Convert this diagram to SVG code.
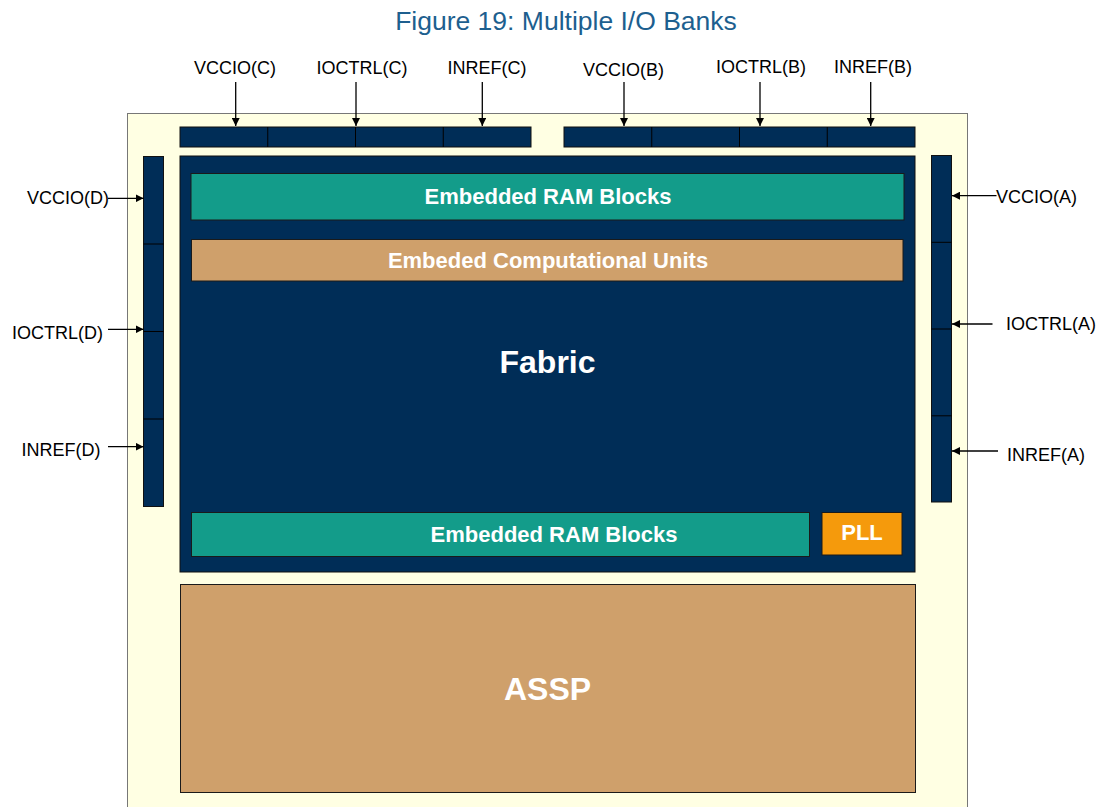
<svg xmlns="http://www.w3.org/2000/svg" width="1100" height="807" viewBox="0 0 1100 807">
  <style>
    .lbl { font-family: "Liberation Sans", Arial, sans-serif; font-size: 18px; fill: #000; }
    .title { font-family: "Liberation Sans", Arial, sans-serif; font-size: 26.5px; fill: #1d5f8f; }
    .bold { font-family: "Liberation Sans", Arial, sans-serif; font-weight: bold; fill: #fff; text-anchor: middle; }
    .bank { fill: #002d57; stroke: #111; stroke-width: 1; }
    .div { stroke: #000; stroke-width: 1; }
    .ram { fill: #139c8a; stroke: #1a1a1a; stroke-width: 1; }
    .tan { fill: #cfa06b; stroke: #1a1a1a; stroke-width: 1; }
    .fabric { fill: #002d57; stroke: #111; stroke-width: 1; }
    .pll { fill: #f59a0c; stroke: #1a1a1a; stroke-width: 1; }
    .wire { stroke: #000; stroke-width: 1.3; fill: none; marker-end: url(#arrow); }
  </style>
  <defs>
    <marker id="arrow" viewBox="0 0 10 10" refX="10" refY="5" markerWidth="8" markerHeight="8" markerUnits="userSpaceOnUse" orient="auto">
      <path d="M0,0 L10,5 L0,10 z" fill="#000"/>
    </marker>
  </defs>

  <rect width="1100" height="807" fill="#fff"/>

  <text class="title" x="566" y="30" text-anchor="middle">Figure 19: Multiple I/O Banks</text>

  <!-- chip outline -->
  <rect id="chip" x="127.5" y="113.5" width="840" height="720" fill="#ffffe3" stroke="#777" stroke-width="1"/>

  <!-- I/O bank C (top left) -->
  <g id="bank-c">
    <rect class="bank" x="180" y="127" width="351" height="20"/>
    <line class="div" x1="267.75" y1="127" x2="267.75" y2="147"/>
    <line class="div" x1="355.5" y1="127" x2="355.5" y2="147"/>
    <line class="div" x1="443.25" y1="127" x2="443.25" y2="147"/>
  </g>

  <!-- I/O bank B (top right) -->
  <g id="bank-b">
    <rect class="bank" x="564" y="127" width="351" height="20"/>
    <line class="div" x1="651.75" y1="127" x2="651.75" y2="147"/>
    <line class="div" x1="739.5" y1="127" x2="739.5" y2="147"/>
    <line class="div" x1="827.25" y1="127" x2="827.25" y2="147"/>
  </g>

  <!-- I/O bank D (left) -->
  <g id="bank-d">
    <rect class="bank" x="143.5" y="156.5" width="20" height="350"/>
    <line class="div" x1="143.5" y1="244" x2="163.5" y2="244"/>
    <line class="div" x1="143.5" y1="331.5" x2="163.5" y2="331.5"/>
    <line class="div" x1="143.5" y1="419" x2="163.5" y2="419"/>
  </g>

  <!-- I/O bank A (right) -->
  <g id="bank-a">
    <rect class="bank" x="931.5" y="155.5" width="20" height="346.5"/>
    <line class="div" x1="931.5" y1="242.3" x2="951.5" y2="242.3"/>
    <line class="div" x1="931.5" y1="329" x2="951.5" y2="329"/>
    <line class="div" x1="931.5" y1="415.8" x2="951.5" y2="415.8"/>
  </g>

  <!-- programmable fabric -->
  <g id="fabric">
    <rect class="fabric" x="180" y="156" width="735" height="416"/>
    <text class="bold" x="547.5" y="373" font-size="32">Fabric</text>
  </g>

  <g id="ram-top">
    <rect class="ram" x="191" y="173.5" width="713" height="46.5"/>
    <text class="bold" x="548" y="204" font-size="22">Embedded RAM Blocks</text>
  </g>

  <g id="comp-units">
    <rect class="tan" x="191.5" y="239.5" width="711.5" height="41.5"/>
    <text class="bold" x="548" y="267.5" font-size="22">Embeded Computational Units</text>
  </g>

  <g id="ram-bottom">
    <rect class="ram" x="191.5" y="512.5" width="618" height="44"/>
    <text class="bold" x="554" y="541.5" font-size="22">Embedded RAM Blocks</text>
  </g>

  <g id="pll">
    <rect class="pll" x="822" y="512.5" width="80" height="42.5"/>
    <text class="bold" x="862" y="540" font-size="22">PLL</text>
  </g>

  <g id="assp">
    <rect class="tan" x="180.5" y="584.5" width="735" height="208"/>
    <text class="bold" x="547.5" y="700" font-size="32">ASSP</text>
  </g>

  <!-- supply / control / reference inputs -->
  <g id="connectors">
    <line class="wire" x1="235.7" y1="82" x2="235.7" y2="126"/>
    <line class="wire" x1="356" y1="82" x2="356" y2="126"/>
    <line class="wire" x1="482.3" y1="82" x2="482.3" y2="126"/>
    <line class="wire" x1="624" y1="82" x2="624" y2="126"/>
    <line class="wire" x1="760" y1="82" x2="760" y2="126"/>
    <line class="wire" x1="870.7" y1="82" x2="870.7" y2="126"/>

    <line class="wire" x1="108" y1="198.3" x2="143.5" y2="198.3"/>
    <line class="wire" x1="108" y1="329.3" x2="143.5" y2="329.3"/>
    <line class="wire" x1="108" y1="446.7" x2="143.5" y2="446.7"/>

    <line class="wire" x1="996.5" y1="195.7" x2="952" y2="195.7"/>
    <line class="wire" x1="992.5" y1="324" x2="952" y2="324"/>
    <line class="wire" x1="998" y1="451" x2="952" y2="451"/>
  </g>

  <g id="labels">
    <text class="lbl" x="235" y="74" text-anchor="middle">VCCIO(C)</text>
    <text class="lbl" x="362" y="74" text-anchor="middle">IOCTRL(C)</text>
    <text class="lbl" x="487" y="74" text-anchor="middle">INREF(C)</text>
    <text class="lbl" x="623.5" y="76" text-anchor="middle">VCCIO(B)</text>
    <text class="lbl" x="761" y="73" text-anchor="middle">IOCTRL(B)</text>
    <text class="lbl" x="873" y="73" text-anchor="middle">INREF(B)</text>

    <text class="lbl" x="109" y="204" text-anchor="end">VCCIO(D)</text>
    <text class="lbl" x="103" y="338.5" text-anchor="end">IOCTRL(D)</text>
    <text class="lbl" x="100.5" y="456" text-anchor="end">INREF(D)</text>

    <text class="lbl" x="996" y="202.5">VCCIO(A)</text>
    <text class="lbl" x="1006" y="330">IOCTRL(A)</text>
    <text class="lbl" x="1007" y="460.5">INREF(A)</text>
  </g>
</svg>
